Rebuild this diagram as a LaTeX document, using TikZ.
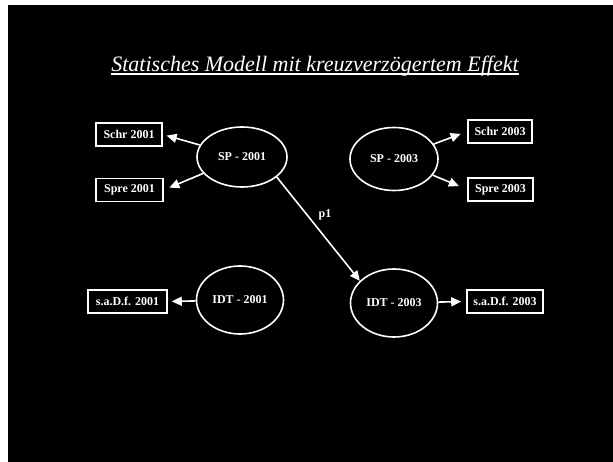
\documentclass[tikz,border=0pt]{standalone}
\usepackage{fontspec}
\setmainfont{Liberation Serif}
\usetikzlibrary{shapes.geometric,arrows.meta}
\begin{document}
\begin{tikzpicture}[x=1pt,y=-1pt,
  lbl/.style={text=white,font=\bfseries\fontsize{12}{14}\selectfont},
  lat/.style={lbl,ellipse,draw=white,line width=1.6pt,inner sep=0pt},
  obs/.style={lbl,rectangle,draw=white,line width=1.6pt,inner sep=0pt,minimum height=23pt},
  arr/.style={draw=white,line width=1.6pt,-{Triangle[length=10pt,width=9pt]}}
]
\useasboundingbox (0,0) rectangle (613,462);
\fill[white] (0,0) rectangle (613,462);
\fill[black] (8,5) rectangle (613,462);

\node[text=white,inner sep=0pt,anchor=base,font=\itshape\fontsize{22}{26}\selectfont] (title) at (315,72) {Statisches Modell mit kreuzverzögertem Effekt};
\draw[white,line width=1.3pt] ([yshift=-2pt]title.base west) -- ([yshift=-2pt]title.base east);

\node[lat,minimum width=90pt,minimum height=60pt] (sp1) at (242,157) {SP - 2001};
\node[lat,minimum width=88pt,minimum height=63pt] (sp3) at (394,159) {SP - 2003};
\node[lat,minimum width=87pt,minimum height=68pt] (idt1) at (240,300) {IDT - 2001};
\node[lat,minimum width=87pt,minimum height=68pt] (idt3) at (394,303) {IDT - 2003};

\node[obs,minimum width=66pt] (schr1) at (129,134.5) {Schr 2001};
\node[obs,minimum width=67pt] (spre1) at (129.5,190) {Spre 2001};
\node[obs,minimum width=64pt] (schr3) at (500,131.5) {Schr 2003};
\node[obs,minimum width=65pt] (spre3) at (500.5,189.5) {Spre 2003};
\node[obs,minimum width=79pt] (sad1) at (127.5,301.5) {s.a.D.f. 2001};
\node[obs,minimum width=76pt] (sad3) at (505,301.5) {s.a.D.f. 2003};

\node[lbl] (p1) at (325,215) {p1};

\draw[arr,shorten >=4pt] (sp1) -- (schr1.east);
\draw[arr,shorten >=6pt] (sp1) -- (spre1.east);
\draw[arr,shorten >=7pt] (sp3) -- (schr3.west);
\draw[arr,shorten >=9pt] (sp3) -- (spre3.west);
\draw[arr,shorten >=4pt] (idt1) -- (sad1.east);
\draw[arr,shorten >=5pt] (idt3) -- (sad3.west);
\draw[arr] (sp1.-30) -- (idt3.147);
\end{tikzpicture}
\end{document}
